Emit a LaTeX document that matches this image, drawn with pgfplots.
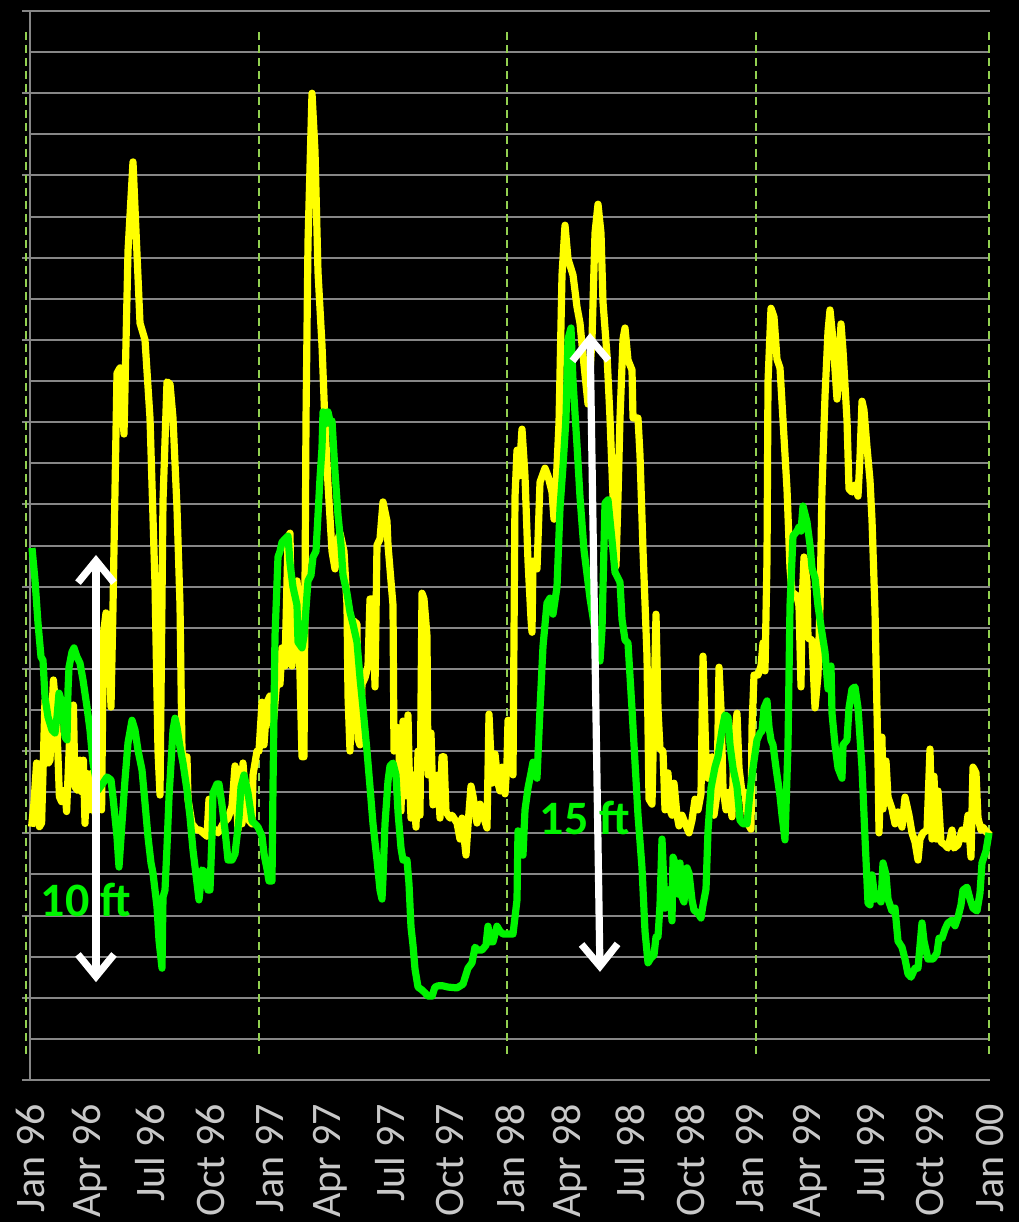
\documentclass[border=0pt]{standalone}
\usepackage{pgfplots}
\pgfplotsset{compat=1.18}
\usepackage{pgfplotstable}
\usepackage{fontspec}
\setmainfont{Carlito}
\usetikzlibrary{arrows.meta}
\definecolor{gridc}{RGB}{134,134,134}
\definecolor{lab}{RGB}{200,200,200}
\definecolor{dashc}{RGB}{146,208,80}
\definecolor{yel}{RGB}{255,255,0}
\definecolor{grn}{RGB}{0,245,0}

\pgfplotstableread{
m v
0.08 6.16
0.2 6.74
0.33 7.71
0.47 6.16
0.58 6.25
0.75 9.24
0.92 7.71
1.0 7.78
1.17 9.73
1.33 8.83
1.47 6.89
1.58 6.77
1.75 7.05
1.83 6.53
1.97 8.19
2.08 7.70
2.17 9.12
2.25 7.13
2.37 7.05
2.5 7.78
2.58 7.01
2.67 7.78
2.75 6.24
2.83 7.46
2.97 6.57
3.08 7.46
3.25 6.49
3.42 7.38
3.58 6.57
3.67 10.86
3.8 11.36
3.9 11.26
4.05 9.07
4.15 11.50
4.35 17.19
4.5 17.32
4.7 15.71
4.9 20.16
5.15 22.33
5.5 18.41
5.75 18.00
6.0 16.10
6.25 12.06
6.4 8.00
6.5 6.93
6.65 14.08
6.85 16.98
7.0 16.93
7.15 16.10
7.35 13.91
7.5 11.55
7.6 8.00
7.75 7.71
7.85 7.86
7.9 6.83
8.1 6.23
8.35 6.08
8.5 6.08
8.65 6.01
8.85 5.93
8.95 6.83
9.1 6.15
9.25 6.08
9.4 6.01
9.65 6.23
9.9 6.37
10.1 6.66
10.25 7.64
10.4 6.08
10.5 7.56
10.6 6.23
10.65 7.71
10.85 6.37
11.1 6.23
11.15 7.42
11.35 8.00
11.45 8.00
11.6 9.19
11.7 8.15
11.85 9.19
12.0 9.34
12.15 8.58
12.35 9.78
12.5 9.63
12.6 10.51
12.75 10.07
12.9 13.16
13.0 13.30
13.1 10.07
13.35 12.14
13.4 11.84
13.6 7.86
13.7 7.86
13.8 16.05
13.9 20.38
14.1 24.00
14.25 22.59
14.4 19.65
14.6 17.87
14.75 15.95
14.9 14.49
15.1 12.86
15.25 12.43
15.4 13.16
15.5 13.30
15.7 12.86
15.85 11.55
15.9 9.34
16.0 8.00
16.1 10.07
16.2 11.16
16.35 11.09
16.4 8.29
16.5 8.15
16.6 9.63
16.75 9.78
16.9 10.07
17.0 11.70
17.15 11.70
17.25 9.56
17.35 13.01
17.5 13.16
17.65 14.06
17.85 13.59
17.9 13.01
18.1 11.84
18.15 11.55
18.2 8.00
18.35 8.58
18.45 8.00
18.55 6.54
18.65 8.73
18.75 6.91
18.9 8.88
18.95 7.71
19.05 6.37
19.15 7.42
19.3 6.15
19.4 8.00
19.5 6.44
19.6 11.84
19.7 11.70
19.85 10.80
19.9 7.42
20.05 8.44
20.15 6.69
20.25 7.13
20.4 7.42
20.5 6.37
20.6 7.86
20.7 7.86
20.8 6.52
21.0 6.37
21.1 6.44
21.35 6.25
21.5 5.86
21.6 6.37
21.8 5.47
21.9 6.20
22.05 7.15
22.15 6.91
22.35 6.25
22.5 6.71
22.65 6.44
22.85 6.13
22.95 8.90
23.1 7.22
23.25 7.93
23.4 7.22
23.5 7.03
23.6 7.61
23.75 6.96
23.85 7.73
23.9 8.75
24.05 8.37
24.15 7.42
24.25 14.18
24.35 15.32
24.45 14.69
24.6 15.83
24.75 14.69
24.9 12.62
25.05 11.21
25.1 10.89
25.15 12.62
25.35 12.43
25.5 14.54
25.75 14.88
25.9 14.69
26.1 14.30
26.2 13.64
26.35 14.93
26.45 15.98
26.6 19.58
26.75 20.79
26.9 19.97
27.15 19.58
27.35 18.80
27.5 18.41
27.65 17.63
27.9 16.44
28.1 18.02
28.25 20.60
28.4 21.30
28.55 20.60
28.65 18.92
28.85 17.63
29.0 16.10
29.15 14.18
29.3 12.50
29.4 14.18
29.5 16.10
29.65 18.02
29.75 18.29
29.9 17.51
30.1 17.27
30.15 16.10
30.4 16.10
30.5 15.20
30.65 12.89
30.85 10.31
30.95 6.83
31.1 6.71
31.2 9.02
31.3 11.33
31.4 9.02
31.5 8.05
31.65 8.00
31.75 6.57
31.9 7.47
32.0 6.57
32.1 6.44
32.2 7.22
32.35 6.44
32.45 6.18
32.6 6.44
32.75 6.25
32.95 6.01
33.1 6.32
33.25 6.83
33.4 6.57
33.55 6.96
33.65 10.31
33.8 7.73
33.9 7.34
34.1 7.86
34.2 6.44
34.35 6.96
34.45 10.04
34.55 9.02
34.65 7.10
34.8 6.57
34.95 7.00
35.1 6.40
35.2 8.15
35.35 8.92
35.45 7.59
35.6 7.00
35.75 7.00
35.9 6.23
36.05 6.10
36.1 8.58
36.2 9.85
36.4 9.85
36.55 10.07
36.65 10.63
36.75 9.95
36.85 12.67
36.9 16.98
37.05 18.77
37.2 18.56
37.35 17.53
37.5 17.32
37.65 16.05
37.85 14.37
38.0 12.45
38.1 11.87
38.35 11.77
38.45 11.53
38.55 9.56
38.6 11.53
38.7 12.72
38.85 12.11
38.9 10.75
39.1 10.70
39.25 9.05
39.4 9.85
39.5 11.53
39.6 14.37
39.75 16.63
39.9 18.21
40.0 18.73
40.15 18.00
40.35 16.56
40.4 16.85
40.55 18.39
40.65 17.75
40.85 16.05
40.95 14.37
41.1 14.30
41.25 14.47
41.4 14.20
41.5 15.15
41.6 16.51
41.7 16.29
41.85 15.39
42.0 14.59
42.1 13.62
42.25 11.41
42.4 7.76
42.45 6.01
42.6 8.34
42.65 6.59
42.8 7.76
42.9 6.88
43.1 6.59
43.25 6.23
43.4 6.52
43.6 6.15
43.75 6.88
43.95 6.44
44.1 6.01
44.25 5.79
44.4 5.35
44.5 5.86
44.65 6.01
44.85 6.08
45.0 8.05
45.1 5.86
45.2 7.39
45.3 5.86
45.4 7.03
45.55 5.79
45.75 5.72
45.9 5.64
46.1 6.08
46.2 5.64
46.4 5.72
46.6 6.08
46.75 5.86
46.9 6.44
47.05 5.42
47.15 7.61
47.3 7.47
47.4 6.37
47.55 6.08
47.65 6.15
47.85 6.01
48.0 6.08
}\yellowdata

\pgfplotstableread{
m v
0.1 12.94
0.25 12.16
0.4 11.11
0.55 10.29
0.65 10.21
0.75 9.31
0.9 8.83
1.1 8.51
1.25 8.44
1.35 8.83
1.45 9.41
1.6 9.17
1.75 8.34
1.85 8.27
1.9 9.48
1.95 10.04
2.1 10.41
2.2 10.51
2.35 10.29
2.5 10.14
2.65 9.73
2.85 9.07
3.0 8.51
3.15 7.71
3.4 7.05
3.65 7.22
3.85 7.37
4.05 7.30
4.15 6.88
4.35 5.91
4.45 5.18
4.6 6.25
4.75 7.30
4.9 8.20
5.1 8.75
5.25 8.51
5.4 8.02
5.6 7.54
5.75 6.74
5.9 5.91
6.05 5.28
6.15 5.03
6.35 4.21
6.45 3.40
6.6 2.72
6.65 4.45
6.75 4.62
6.85 5.67
6.95 6.88
7.15 8.51
7.25 8.80
7.35 8.58
7.5 8.10
7.65 7.71
7.85 7.05
8.0 6.40
8.15 5.59
8.35 4.79
8.45 4.38
8.6 5.11
8.75 5.06
8.9 4.62
9.0 4.62
9.1 5.93
9.15 6.98
9.35 7.20
9.45 7.20
9.6 6.69
9.75 6.08
9.9 5.35
10.1 5.35
10.25 5.50
10.35 5.93
10.45 6.37
10.55 7.13
10.7 7.42
10.9 6.98
11.1 6.30
11.25 6.23
11.4 6.15
11.6 5.93
11.7 5.50
11.85 5.13
11.95 4.84
12.1 4.84
12.15 7.13
12.25 10.80
12.4 12.72
12.5 12.86
12.6 13.08
12.75 13.16
12.9 13.23
13.0 12.57
13.15 11.99
13.35 11.55
13.4 10.65
13.6 10.51
13.7 10.80
13.9 12.14
14.05 12.28
14.15 12.72
14.3 12.86
14.4 13.74
14.5 14.64
14.6 15.37
14.65 16.25
14.75 15.95
14.9 16.25
15.0 16.03
15.1 16.03
15.25 14.79
15.4 13.74
15.55 13.01
15.65 12.28
15.85 11.84
16.0 11.38
16.15 11.09
16.35 10.65
16.5 9.78
16.65 9.05
16.85 8.00
17.0 7.13
17.15 6.23
17.35 5.35
17.5 4.62
17.6 4.40
17.65 4.91
17.75 6.23
17.9 7.27
18.0 7.64
18.15 7.71
18.3 7.42
18.4 6.52
18.55 5.64
18.65 5.35
18.85 5.35
18.95 4.77
19.05 3.72
19.15 3.28
19.25 2.70
19.4 2.26
19.6 2.19
19.75 2.12
19.9 2.04
20.1 2.04
20.25 2.26
20.4 2.29
20.65 2.29
20.9 2.26
21.35 2.24
21.65 2.33
21.9 2.72
22.1 2.85
22.25 3.23
22.4 3.16
22.6 3.16
22.8 3.28
22.9 3.74
23.0 3.36
23.15 3.36
23.35 3.74
23.5 3.62
23.65 3.55
24.15 3.55
24.35 4.38
24.4 6.06
24.55 5.54
24.65 5.47
24.75 6.57
24.9 7.10
25.05 7.47
25.15 7.73
25.35 7.34
25.5 9.02
25.65 10.55
25.85 11.60
26.0 11.72
26.15 11.33
26.35 11.99
26.5 13.91
26.65 14.93
26.8 16.10
26.9 18.02
27.05 18.29
27.15 17.00
27.35 15.44
27.5 14.18
27.7 12.89
28.0 11.72
28.25 10.94
28.5 10.19
28.6 10.94
28.75 14.03
28.9 14.11
29.1 13.13
29.25 12.35
29.5 12.11
29.6 11.21
29.75 10.70
29.9 10.63
30.1 9.02
30.25 7.73
30.4 6.44
30.6 5.16
30.75 3.62
30.9 2.85
31.05 2.97
31.2 3.04
31.3 3.48
31.4 3.48
31.5 4.26
31.6 5.86
31.65 5.28
31.75 4.18
31.9 4.26
32.0 4.64
32.1 3.87
32.15 5.42
32.25 5.28
32.4 4.52
32.5 5.28
32.6 4.45
32.7 4.33
32.85 5.16
32.95 5.03
33.1 4.38
33.2 4.13
33.4 4.06
33.55 3.94
33.65 4.26
33.8 4.64
33.9 6.06
34.05 7.10
34.25 7.61
34.4 7.86
34.6 8.51
34.75 8.88
34.9 8.83
35.0 8.15
35.15 7.59
35.35 7.13
35.5 6.32
35.65 6.23
35.85 6.23
36.0 7.00
36.15 7.59
36.35 8.27
36.5 8.44
36.6 8.49
36.7 9.05
36.85 9.22
36.95 8.58
37.05 8.27
37.15 8.15
37.3 7.59
37.4 7.25
37.5 6.91
37.6 6.44
37.75 5.84
37.9 8.15
38.0 11.53
38.15 13.23
38.35 13.35
38.45 13.45
38.55 13.35
38.65 13.96
38.85 13.57
39.0 13.01
39.1 12.45
39.25 12.21
39.4 11.53
39.6 10.87
39.75 10.41
39.9 9.51
40.05 10.07
40.1 8.92
40.25 8.15
40.4 7.59
40.6 7.34
40.65 8.15
40.85 8.27
40.95 9.05
41.1 9.51
41.25 9.56
41.4 9.05
41.6 7.59
41.75 5.89
41.9 4.30
42.0 4.26
42.1 4.99
42.25 4.40
42.4 4.47
42.55 4.33
42.65 5.28
42.8 4.99
42.9 4.40
43.1 4.11
43.25 4.18
43.4 3.38
43.6 3.23
43.75 2.94
43.9 2.58
44.05 2.50
44.25 2.72
44.4 2.72
44.6 3.82
44.7 3.38
44.9 2.94
45.15 2.94
45.35 3.09
45.45 3.45
45.6 3.45
45.75 3.67
45.9 3.82
46.1 3.89
46.25 3.75
46.4 3.96
46.55 4.26
46.65 4.62
46.85 4.69
47.0 4.40
47.15 4.18
47.35 4.11
47.5 4.55
47.6 5.28
47.8 5.57
47.95 6.01
}\greendata

\begin{document}
\begin{tikzpicture}[x=1pt,y=1pt]
\fill[black] (-15,-71) rectangle (494.5,540);
\begin{axis}[
  at={(0,0)}, anchor=south west,
  scale only axis, width=480pt, height=534.5pt,
  xmin=0, xmax=48, ymin=0, ymax=26,
  clip=false,
  axis lines*=left,
  axis line style={draw=gridc, line width=1pt, -},
  xtick={0,3,...,48},
  xticklabels={Jan 96,Apr 96,Jul 96,Oct 96,Jan 97,Apr 97,Jul 97,Oct 97,Jan 98,Apr 98,Jul 98,Oct 98,Jan 99,Apr 99,Jul 99,Oct 99,Jan 00},
  x tick label style={rotate=90, anchor=east, inner xsep=8pt, inner ysep=0pt, font=\fontsize{21}{21}\selectfont, text=lab},
  xtick style={draw=none},
  ytick={0,2,...,26},
  minor ytick={1,3,...,25},
  yticklabels={},
  ymajorgrids, yminorgrids,
  major grid style={draw=gridc, line width=1pt},
  minor grid style={draw=gridc, line width=1pt},
  ytick style={draw=gridc, line width=1pt},
  tick align=outside,
  major tick length=4pt,
  minor tick length=0pt,
]
\foreach \xx in {-0.2,11.45,23.85,36.3,47.95}{
  \edef\temp{\noexpand\draw[dashc, line width=1pt, dash pattern=on 4pt off 2.5pt] (axis cs:\xx,0.63) -- (axis cs:\xx,25.5);}
  \temp
}
\addplot[yel, line width=3.6pt, line join=round, no markers] table[x=m,y=v] {\yellowdata};
\addplot[grn, line width=3.6pt, line join=round, no markers] table[x=m,y=v] {\greendata};
\draw[white, line width=3.6pt, {Straight Barb[length=11pt,width=18pt]}-{Straight Barb[length=11pt,width=18pt]}] (axis cs:3.3,12.77) -- (axis cs:3.3,2.38);
\draw[white, line width=3.6pt, {Straight Barb[length=11pt,width=18pt]}-{Straight Barb[length=11pt,width=18pt]}] (axis cs:28.0,18.17) -- (axis cs:28.5,2.63);
\node[text=grn, font=\fontsize{24}{24}\selectfont\bfseries] at (axis cs:2.8,4.38) {10 ft};
\node[text=grn, font=\fontsize{24}{24}\selectfont\bfseries] at (axis cs:27.75,6.37) {15 ft};
\end{axis}
\pgfresetboundingbox
\path[use as bounding box] (-15,-71) rectangle (494.5,540);
\end{tikzpicture}
\end{document}
